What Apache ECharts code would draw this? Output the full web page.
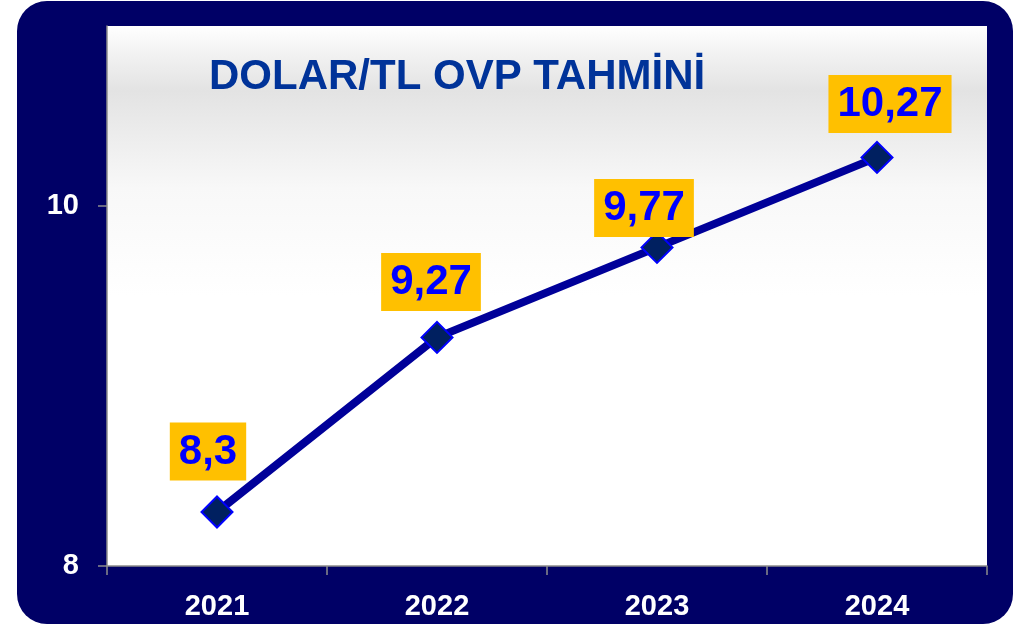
<!DOCTYPE html>
<html>
<head>
<meta charset="utf-8">
<script src="https://cdn.jsdelivr.net/npm/echarts@6/dist/echarts.min.js"></script>
<style>
  html, body { margin: 0; padding: 0; background: #fff; }
  #chart { width: 1014px; height: 626px; }
</style>
</head>
<body>
<div id="chart"></div>
<script>
const years = ["2021", "2022", "2023", "2024"];
const rates = [8.3, 9.27, 9.77, 10.27];
const rateLabels = ["8,3", "9,27", "9,77", "10,27"];
const yTicks = [8, 10];

// label nudges so boxes sit like in the slide
const labelShift = [[-9, -15], [-6, -10], [-13, 6], [13, -8]];

const chart = echarts.init(document.getElementById("chart"));

chart.setOption({
  animation: false,
  backgroundColor: "#fff",
  graphic: [
    {
      type: "rect",
      z: -10,
      silent: true,
      shape: { x: 17, y: 1, width: 996, height: 623, r: 30 },
      style: { fill: "#000066" },
    },
  ],
  title: {
    text: "DOLAR/TL OVP TAHMİNİ",
    left: 204,
    top: 51,
    textStyle: {
      color: "#003399",
      fontFamily: "Liberation Sans, Arial, sans-serif",
      fontWeight: "bold",
      fontSize: 42,
    },
  },
  grid: {
    left: 107,
    right: 27,
    top: 26,
    bottom: 60,
    show: true,
    borderWidth: 0,
    backgroundColor: new echarts.graphic.LinearGradient(0, 0, 0, 1, [
      { offset: 0, color: "#ffffff" },
      { offset: 0.06, color: "#f0f0f0" },
      { offset: 0.12, color: "#e3e3e3" },
      { offset: 0.3, color: "#f8f8f8" },
      { offset: 0.5, color: "#ffffff" },
      { offset: 1, color: "#ffffff" },
    ]),
  },
  xAxis: {
    type: "category",
    data: years,
    boundaryGap: true,
    axisLine: { lineStyle: { color: "#8c8c8c", width: 1.5 } },
    axisTick: { show: true, length: 9, lineStyle: { color: "#8c8c8c", width: 1.5 } },
    axisLabel: {
      color: "#fff",
      fontFamily: "Liberation Sans, Arial, sans-serif",
      fontWeight: "bold",
      fontSize: 29,
      margin: 26,
    },
  },
  yAxis: {
    type: "value",
    min: 8,
    max: 11,
    interval: 2,
    axisLine: { show: true, lineStyle: { color: "#8c8c8c", width: 1.5 } },
    axisTick: { show: true, length: 9, customValues: yTicks, lineStyle: { color: "#8c8c8c", width: 1.5 } },
    splitLine: { show: false },
    axisLabel: {
      customValues: yTicks,
      color: "#fff",
      fontFamily: "Liberation Sans, Arial, sans-serif",
      fontWeight: "bold",
      fontSize: 29,
      margin: 28,
    },
  },
  series: [
    {
      type: "line",
      data: rates.map((v, i) => ({
        value: v,
        label: { offset: labelShift[i] },
      })),
      lineStyle: { color: "#000099", width: 8 },
      symbol: "diamond",
      symbolSize: 31,
      itemStyle: { color: "#002060", borderColor: "#0000ff", borderWidth: 2 },
      label: {
        show: true,
        position: "top",
        distance: 0,
        formatter: (p) => rateLabels[p.dataIndex],
        color: "#0000ff",
        fontFamily: "Liberation Sans, Arial, sans-serif",
        fontWeight: "bold",
        fontSize: 42,
        lineHeight: 43,
        backgroundColor: "#ffc000",
        padding: [8, 9, 7, 9],
      },
    },
  ],
});
</script>
</body>
</html>
